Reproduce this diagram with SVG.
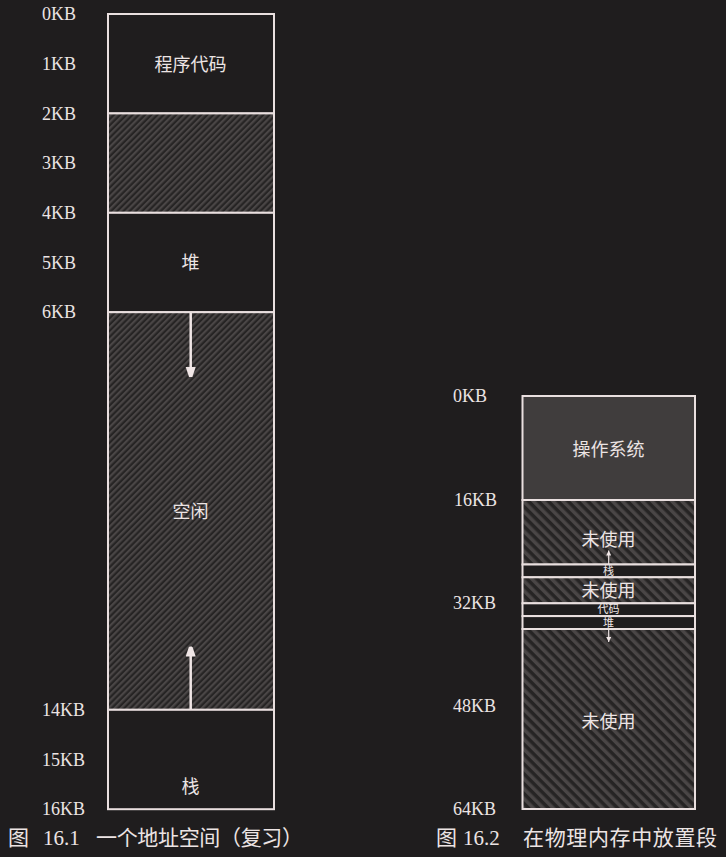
<svg xmlns="http://www.w3.org/2000/svg" width="726" height="857" viewBox="0 0 726 857">
<defs>
<pattern id="hatchL" width="4.4" height="4.4" patternUnits="userSpaceOnUse" patternTransform="rotate(45)">
<rect width="4.4" height="4.4" fill="#262424"/>
<rect width="2.2" height="4.4" fill="#4a4646"/>
</pattern>
<pattern id="hatchR" width="7" height="7" patternUnits="userSpaceOnUse" patternTransform="rotate(-45)">
<rect width="7" height="7" fill="#262424"/>
<rect width="3.5" height="7" fill="#4a4646"/>
</pattern>
<marker id="headL" viewBox="0 0 10 15" refX="10" refY="5" markerWidth="10" markerHeight="15" markerUnits="userSpaceOnUse" orient="auto">
<path d="M0,0 L15,5 L0,10 Z" fill="#f0e6e6"/>
</marker>
<marker id="headS" viewBox="0 0 6 6" refX="6" refY="3" markerWidth="6" markerHeight="5" markerUnits="userSpaceOnUse" orient="auto">
<path d="M0,0 L6,3 L0,6 Z" fill="#f0e6e6"/>
</marker>
</defs>
<style>
.box{stroke:#e9dfdf;stroke-width:2}
.dark{fill:#1f1d1e}
.os{fill:#403d3d}
.hl{fill:url(#hatchL)}
.hr{fill:url(#hatchR)}
.lbl{font-family:"Liberation Serif","Noto Sans CJK SC",serif;font-size:18px;fill:#ece4e4}
.cn{font-family:"Liberation Serif","Noto Sans CJK SC",serif;font-size:18px;fill:#ece4e4;text-anchor:middle}
.sm{font-family:"Liberation Serif","Noto Sans CJK SC",serif;font-size:11px;fill:#ece4e4;text-anchor:middle}
.cap{font-family:"Liberation Serif","Noto Sans CJK SC",serif;font-size:21px;fill:#ece4e4}
.arr{stroke:#f0e6e6;stroke-width:2.5;fill:none}
.arrs{stroke:#f0e6e6;stroke-width:1.2;fill:none}
</style>
<rect width="726" height="857" fill="#1f1d1e"/>

<!-- Figure 16.1 -->
<g id="code16_1">
<rect class="box dark" x="108" y="14" width="166" height="99.4"/>
<text class="cn" x="190.5" y="71">程序代码</text>
</g>
<g id="gap16_1">
<rect class="box hl" x="108" y="113.4" width="166" height="99.4"/>
</g>
<g id="heap16_1">
<rect class="box dark" x="108" y="212.8" width="166" height="99.4"/>
<text class="cn" x="190.5" y="269">堆</text>
</g>
<g id="free16_1">
<rect class="box hl" x="108" y="312.2" width="166" height="397.6"/>
<text class="cn" x="190.5" y="518">空闲</text>
</g>
<g id="stack16_1">
<rect class="box dark" x="108" y="709.8" width="166" height="99.4"/>
<text class="cn" x="190.5" y="793">栈</text>
</g>
<g id="labels16_1">
<text class="lbl" x="42" y="20">0KB</text>
<text class="lbl" x="42" y="70">1KB</text>
<text class="lbl" x="42" y="119.5">2KB</text>
<text class="lbl" x="42" y="169">3KB</text>
<text class="lbl" x="42" y="219">4KB</text>
<text class="lbl" x="42" y="268.5">5KB</text>
<text class="lbl" x="42" y="318">6KB</text>
<text class="lbl" x="42" y="716">14KB</text>
<text class="lbl" x="42" y="765.5">15KB</text>
<text class="lbl" x="42" y="815">16KB</text>
</g>

<!-- Figure 16.2 -->
<g id="os16_2">
<rect class="box os" x="522.5" y="396" width="172.5" height="104"/>
<text class="cn" x="608.5" y="456">操作系统</text>
</g>
<g id="unused1_16_2">
<rect class="box hr" x="522.5" y="500" width="172.5" height="64.5"/>
<text class="cn" x="608.5" y="546">未使用</text>
</g>
<g id="stack16_2">
<rect class="box dark" x="522.5" y="564.5" width="172.5" height="12.8"/>
<text class="sm" x="608.5" y="574.5">栈</text>
</g>
<g id="unused2_16_2">
<rect class="box hr" x="522.5" y="577.3" width="172.5" height="26"/>
<text class="cn" x="608.5" y="596.5">未使用</text>
</g>
<g id="code16_2">
<rect class="box dark" x="522.5" y="603.3" width="172.5" height="12.8"/>
<text class="sm" x="608.5" y="612.5">代码</text>
</g>
<g id="heap16_2">
<rect class="box dark" x="522.5" y="616.1" width="172.5" height="12.9"/>
<text class="sm" x="608.5" y="626.5">堆</text>
</g>
<g id="unused3_16_2">
<rect class="box hr" x="522.5" y="629" width="172.5" height="180"/>
<text class="cn" x="608.5" y="728">未使用</text>
</g>
<g id="labels16_2">
<text class="lbl" x="453" y="402">0KB</text>
<text class="lbl" x="454" y="505.5">16KB</text>
<text class="lbl" x="453" y="608.5">32KB</text>
<text class="lbl" x="453" y="712">48KB</text>
<text class="lbl" x="453" y="815">64KB</text>
</g>

<g id="connectors">
<line class="arr" x1="190.7" y1="313" x2="190.7" y2="377" marker-end="url(#headL)"/>
<line class="arr" x1="190.7" y1="709" x2="190.7" y2="646.5" marker-end="url(#headL)"/>
<line class="arrs" x1="608.7" y1="564" x2="608.7" y2="550.5" marker-end="url(#headS)"/>
<line class="arrs" x1="608.7" y1="629.5" x2="608.7" y2="642" marker-end="url(#headS)"/>
</g>

<g id="captions">
<text class="cap" x="8" y="845">图</text>
<text class="cap" x="43" y="845">16.1</text>
<text class="cap" x="96" y="845" textLength="207">一个地址空间（复习）</text>
<text class="cap" x="436" y="845">图</text>
<text class="cap" x="463" y="845">16.2</text>
<text class="cap" x="523" y="845" textLength="194">在物理内存中放置段</text>
</g>
</svg>
